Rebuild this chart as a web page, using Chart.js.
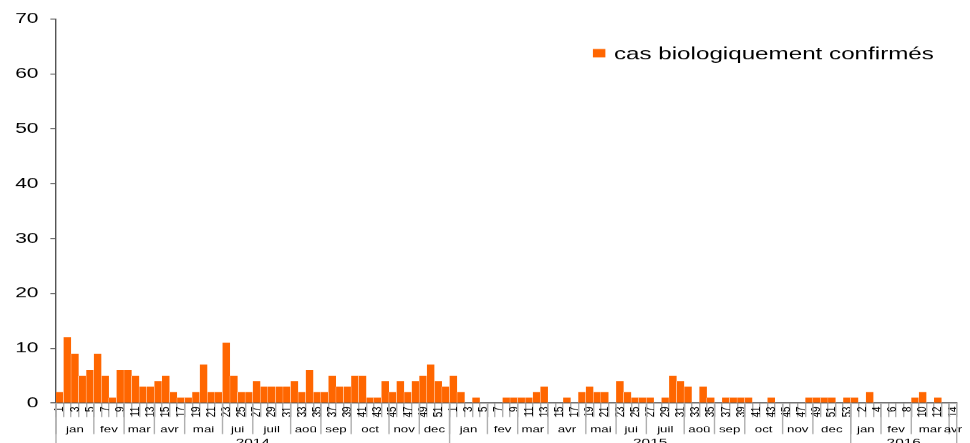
<!DOCTYPE html>
<html><head><meta charset="utf-8">
<script src="https://cdn.jsdelivr.net/npm/chart.js@4/dist/chart.umd.min.js"></script>
<style>
html,body{margin:0;padding:0;background:#fff;overflow:hidden;width:970px;height:443px;}
#wrap{position:absolute;left:0;top:0;width:693px;height:443px;transform:scaleX(1.39971);transform-origin:0 0;}
</style></head><body>
<div id="wrap"><canvas id="c"></canvas></div>
<script>
const seriesLabel = 'cas biologiquement confirmés';
const years = ['2014', '2015', '2016'];
const cases2014 = [2,12,9,5,6,9,5,1,6,6,5,3,3,4,5,2,1,1,2,7,2,2,11,5,2,2,4,3,3,3,3,4,2,6,2,2,5,3,3,5,5,1,1,4,2,4,2,4,5,7,4,3];
const cases2015 = [5,2,0,1,0,0,0,1,1,1,1,2,3,0,0,1,0,2,3,2,2,0,4,2,1,1,1,0,1,5,4,3,0,3,1,0,1,1,1,1,0,0,1,0,0,0,0,1,1,1,1,0,1];
const cases2016 = [1,0,2,0,0,0,0,0,1,2,0,1,0,0];
const months2014 = ['jan','fev','mar','avr','mai','jui','juil','aoû','sep','oct','nov','dec'];
const monthWeeks2014 = [5,4,4,4,5,4,5,4,4,5,4,4];
const months2015 = ['jan','fev','mar','avr','mai','jui','juil','aoû','sep','oct','nov','dec'];
const monthWeeks2015 = [5,4,4,5,4,4,5,4,4,5,4,5];
const months2016 = ['jan','fev','mar','avr'];
const monthWeeks2016 = [4,4,5,1];
const yTicks = [0, 10, 20, 30, 40, 50, 60, 70];

const yearCases = [cases2014, cases2015, cases2016];
const yearMonths = [months2014, months2015, months2016];
const yearMonthWeeks = [monthWeeks2014, monthWeeks2015, monthWeeks2016];

const weekLabels = [];
const values = [];
yearCases.forEach(arr => arr.forEach((v, i) => { weekLabels.push(String(i + 1)); values.push(v); }));

const FONT = '"Liberation Sans", Arial, Helvetica, sans-serif';
const S = 970 / 693;

const groupPlugin = {
  id: 'groups',
  afterDraw(chart) {
    const x = chart.scales.x, ctx = chart.ctx;
    const step = x.getPixelForValue(1) - x.getPixelForValue(0);
    const edge = i => x.getPixelForValue(i) - step / 2;
    const top = x.top;
    ctx.save();
    ctx.strokeStyle = '#b0b0b0';
    ctx.lineWidth = 1;
    const vline = (px, y1) => { ctx.beginPath(); ctx.moveTo(px, top); ctx.lineTo(px, y1); ctx.stroke(); };
    ctx.fillStyle = '#000';
    ctx.textAlign = 'center';
    ctx.textBaseline = 'alphabetic';
    let idx = 0;
    years.forEach((yr, yi) => {
      const yStart = idx;
      yearMonths[yi].forEach((m, mi) => {
        const s = idx, e = idx + yearMonthWeeks[yi][mi];
        vline(edge(s), 434);
        ctx.font = '9.5px ' + FONT;
        ctx.fillText(m, (edge(s) + edge(e)) / 2, 432);
        idx = e;
      });
      vline(edge(yStart), 443);
      ctx.font = '11px ' + FONT;
      ctx.fillText(yr, (edge(yStart) + edge(idx)) / 2, 446);
    });
    vline(edge(idx), 443);
    ctx.restore();
  }
};

const legendPlugin = {
  id: 'insideLegend',
  afterDraw(chart) {
    const ctx = chart.ctx, ds = chart.data.datasets[0];
    ctx.save();
    ctx.fillStyle = ds.backgroundColor;
    ctx.fillRect(423.6, 49, 8.9, 8.4);
    ctx.fillStyle = '#000';
    ctx.font = '17.3px ' + FONT;
    ctx.textAlign = 'left';
    ctx.textBaseline = 'alphabetic';
    ctx.fillText(ds.label, 438.6, 59.3);
    ctx.restore();
  }
};

new Chart(document.getElementById('c'), {
  type: 'bar',
  data: {
    labels: weekLabels,
    datasets: [{
      label: seriesLabel,
      data: values,
      backgroundColor: '#FF6600',
      borderColor: '#ffffff',
      borderWidth: { left: 0.35, right: 0.35, top: 0, bottom: 0 },
      borderSkipped: false,
      barPercentage: 1,
      categoryPercentage: 1
    }]
  },
  options: {
    responsive: true,
    maintainAspectRatio: false,
    devicePixelRatio: S,
    animation: false,
    layout: { padding: { top: 19, right: 9.5, bottom: 0, left: 0 } },
    plugins: { legend: { display: false }, tooltip: { enabled: false } },
    scales: {
      x: {
        type: 'category',
        offset: true,
        afterFit: s => { s.height = 40; },
        border: { display: true, color: '#555555', width: 1 },
        grid: { display: true, offset: true, drawOnChartArea: false, drawTicks: true, tickLength: 14, color: '#b0b0b0' },
        ticks: {
          autoSkip: false,
          minRotation: 90,
          maxRotation: 90,
          padding: -10.5,
          color: '#000',
          font: { family: FONT, size: 9.5 },
          callback: function (v, i) { return i % 2 === 0 ? this.getLabelForValue(v) : ''; }
        }
      },
      y: {
        min: 0,
        max: 70,
        afterFit: s => { s.width = 40; },
        afterBuildTicks: s => { s.ticks = yTicks.map(v => ({ value: v })); },
        border: { display: true, color: '#555555', width: 1 },
        grid: { display: true, drawOnChartArea: false, drawTicks: true, tickLength: 4, color: '#555555' },
        ticks: { padding: 8.5, color: '#000', font: { family: FONT, size: 15 } }
      }
    }
  },
  plugins: [groupPlugin, legendPlugin]
});
</script>
</body></html>
